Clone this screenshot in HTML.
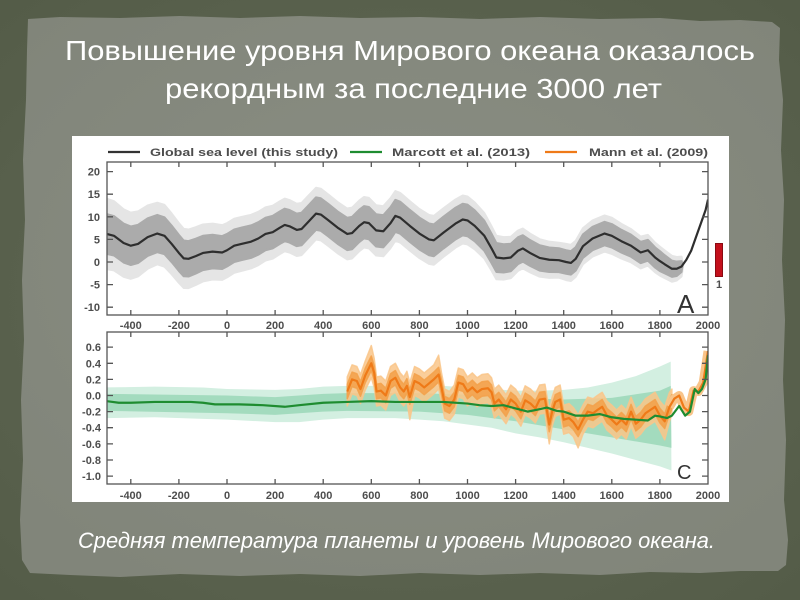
<!DOCTYPE html>
<html><head><meta charset="utf-8"><style>
html,body{margin:0;padding:0;background:#5d654f;}
svg{display:block;}
.lab{font-family:"Liberation Sans",sans-serif;font-weight:bold;font-size:11px;fill:#4d4d4d;}
</style></head><body>
<svg width="800" height="600" viewBox="0 0 800 600" xmlns="http://www.w3.org/2000/svg">
<defs>
<radialGradient id="bg" cx="50%" cy="50%" r="70%">
<stop offset="0" stop-color="#636b57"/><stop offset="1" stop-color="#545c48"/>
</radialGradient>
<radialGradient id="pn" cx="50%" cy="45%" r="65%">
<stop offset="0" stop-color="#8a8e83"/><stop offset="1" stop-color="#81857a"/>
</radialGradient>
<clipPath id="c1"><rect x="107" y="162" width="601" height="153"/></clipPath>
<clipPath id="c2"><rect x="107" y="332" width="601" height="152"/></clipPath>
</defs>
<rect width="800" height="600" fill="url(#bg)"/>
<polygon fill="url(#pn)" points="28,19 60,17 120,18 180,16 240,18 300,16 360,18 420,17 480,19 540,17 600,19 660,18 700,21 740,20 772,22 780,28 779,60 783,100 781,150 784,200 782,260 785,320 783,380 786,440 784,500 788,540 786,565 778,571 740,571 700,573 650,572 600,575 540,573 480,575 420,573 360,576 300,574 240,576 180,574 120,577 70,575 30,573 22,560 20,520 23,460 21,400 24,340 22,280 25,220 23,160 26,100 27,50"/>

<text x="65" y="60" textLength="690" lengthAdjust="spacingAndGlyphs" font-family="Liberation Sans, sans-serif" font-size="28" fill="#ffffff">Повышение уровня Мирового океана оказалось</text>
<text x="165" y="98" textLength="497" lengthAdjust="spacingAndGlyphs" font-family="Liberation Sans, sans-serif" font-size="28" fill="#ffffff">рекордным за последние 3000 лет</text>
<text x="78" y="548" textLength="637" lengthAdjust="spacingAndGlyphs" font-family="Liberation Sans, sans-serif" font-style="italic" font-size="22" fill="#ffffff">Средняя температура планеты и уровень Мирового океана.</text>

<rect x="72" y="136" width="657" height="366" fill="#ffffff"/>

<!-- legend -->
<line x1="108" y1="152" x2="140" y2="152" stroke="#333" stroke-width="2.2"/>
<text x="150" y="156" class="lab" font-size="12" textLength="188" lengthAdjust="spacingAndGlyphs">Global sea level (this study)</text>
<line x1="350" y1="152" x2="382" y2="152" stroke="#1e8c30" stroke-width="2.2"/>
<text x="392" y="156" class="lab" font-size="12" textLength="138" lengthAdjust="spacingAndGlyphs">Marcott et al. (2013)</text>
<line x1="545" y1="152" x2="577" y2="152" stroke="#ef7a18" stroke-width="2.2"/>
<text x="589" y="156" class="lab" font-size="12" textLength="119" lengthAdjust="spacingAndGlyphs">Mann et al. (2009)</text>

<!-- TOP PLOT -->
<g clip-path="url(#c1)">
<g transform="matrix(0.2405 0 0 -4.52 227 262)">
<polygon fill="#e5e5e5" stroke="#e5e5e5" stroke-width="2" vector-effect="non-scaling-stroke" stroke-linejoin="round" points="-500,14 -470,13.46 -430,11.67 -400,10.93 -370,11.19 -330,12.5 -290,13.11 -260,12.64 -230,10.72 -200,8.6 -180,7.34 -160,7.18 -130,7.69 -100,8.3 -60,8.48 -20,8.16 0,8.6 30,9.58 60,9.96 100,10.43 130,11.1 160,12.08 190,12.46 220,13.44 240,14.02 260,13.7 290,12.88 310,13.07 340,14.75 370,16.42 390,16.21 420,14.99 460,13.26 500,11.83 520,12.02 550,13.6 570,14.39 590,14.18 620,12.56 650,12.34 680,14.12 700,15.7 720,15.29 760,13.46 800,11.73 840,10.41 860,10.2 900,11.87 950,13.83 980,14.71 1000,14.5 1030,13.18 1070,10.82 1100,7.9 1120,5.82 1150,5.5 1180,5.58 1210,6.97 1230,7.4 1260,6.29 1300,5.05 1340,4.5 1380,4.27 1410,4 1430,3.8 1450,4.7 1480,7.5 1520,9.2 1570,10.3 1600,9.8 1640,8.44 1680,7.28 1720,5.62 1750,6 1780,4.28 1800,3.4 1820,2.57 1850,1.37 1870,1.1 1890,1.2 1897,-0.8 1890,-3.2 1870,-4.1 1850,-4.37 1820,-3.57 1800,-3 1780,-2.28 1750,-0.8 1720,-1.42 1680,-0.08 1640,0.76 1600,1.8 1570,2.3 1520,1.2 1480,-0.5 1450,-3.3 1430,-4.2 1410,-4 1380,-3.47 1340,-3.5 1300,-3.25 1260,-2.29 1230,-1.4 1210,-1.97 1180,-3.58 1150,-3.9 1120,-3.82 1100,-1.9 1070,0.78 1030,2.82 1000,3.9 980,4.09 950,3.17 900,1.13 860,-0.6 840,-0.41 800,0.87 760,2.54 720,4.31 700,4.7 680,3.08 650,1.26 620,1.44 590,3.02 570,3.21 550,2.4 520,0.78 500,0.57 460,1.94 420,3.61 390,4.79 370,4.98 340,3.25 310,1.53 290,1.32 260,2.1 240,2.38 220,1.76 190,0.74 160,0.32 130,-0.7 100,-1.43 60,-1.96 30,-2.38 0,-3.4 -20,-3.96 -60,-3.88 -100,-4.3 -130,-5.09 -160,-5.78 -180,-5.74 -200,-4.6 -230,-2.72 -260,-1.04 -290,-0.51 -330,-1.5 -370,-3.19 -400,-3.73 -430,-3.27 -470,-1.86 -500,-1.6"/>
<polygon fill="#ababab" stroke="#ababab" stroke-width="2" vector-effect="non-scaling-stroke" stroke-linejoin="round" points="-500,10.6 -470,10.16 -430,8.51 -400,7.87 -370,8.23 -330,9.67 -290,10.42 -260,9.88 -230,8.04 -200,6 -180,4.76 -160,4.62 -130,5.16 -100,5.8 -60,6.02 -20,5.74 0,6.2 30,7.2 60,7.6 100,8.1 130,8.8 160,9.8 190,10.2 220,11.2 240,11.8 260,11.5 290,10.7 310,10.9 340,12.6 370,14.3 390,14.1 420,12.9 460,11.19 500,9.78 520,9.98 550,11.58 570,12.37 590,12.17 620,10.57 650,10.36 680,12.16 700,13.75 720,13.35 760,11.54 800,9.83 840,8.52 860,8.32 900,10.02 950,12.01 980,12.9 1000,12.7 1030,11.43 1070,9.13 1100,6.25 1120,4.2 1150,3.93 1180,4.05 1210,5.48 1230,5.93 1260,4.86 1300,3.7 1340,3.22 1380,3.04 1410,2.6 1430,2.4 1450,3.3 1480,6.1 1520,7.8 1570,8.9 1600,8.4 1640,7.12 1680,6.04 1720,4.46 1750,4.9 1780,3.24 1800,2.4 1820,1.5 1850,0.3 1870,0.1 1890,0.2 1895,-0.5 1890,-2.2 1870,-3.1 1850,-3.3 1820,-2.5 1800,-2 1780,-1.24 1750,0.3 1720,-0.26 1680,1.16 1640,2.08 1600,3.2 1570,3.7 1520,2.6 1480,0.9 1450,-1.9 1430,-2.8 1410,-2.6 1380,-2.24 1340,-2.22 1300,-1.9 1260,-0.86 1230,0.07 1210,-0.48 1180,-2.05 1150,-2.33 1120,-2.2 1100,-0.25 1070,2.47 1030,4.57 1000,5.7 980,5.9 950,4.99 900,2.98 860,1.28 840,1.48 800,2.77 760,4.46 720,6.25 700,6.65 680,5.04 650,3.24 620,3.43 590,5.03 570,5.23 550,4.42 520,2.82 500,2.62 460,4.01 420,5.7 390,6.9 370,7.1 340,5.4 310,3.7 290,3.5 260,4.3 240,4.6 220,4 190,3 160,2.6 130,1.6 100,0.9 60,0.4 30,0 0,-1 -20,-1.54 -60,-1.42 -100,-1.8 -130,-2.56 -160,-3.22 -180,-3.16 -200,-2 -230,-0.04 -260,1.72 -290,2.18 -330,1.33 -370,-0.23 -400,-0.67 -430,-0.11 -470,1.44 -500,1.8"/>
<polyline fill="none" stroke="#2e2e2e" stroke-width="2.2" vector-effect="non-scaling-stroke" stroke-linejoin="round" points="-500,6.2 -470,5.8 -430,4.2 -400,3.6 -370,4 -330,5.5 -290,6.3 -260,5.8 -230,4 -200,2 -180,0.8 -160,0.7 -130,1.3 -100,2 -60,2.3 -20,2.1 0,2.6 30,3.6 60,4 100,4.5 130,5.2 160,6.2 190,6.6 220,7.6 240,8.2 260,7.9 290,7.1 310,7.3 340,9 370,10.7 390,10.5 420,9.3 460,7.6 500,6.2 520,6.4 550,8 570,8.8 590,8.6 620,7 650,6.8 680,8.6 700,10.2 720,9.8 760,8 800,6.3 840,5 860,4.8 900,6.5 950,8.5 980,9.4 1000,9.2 1030,8 1070,5.8 1100,3 1120,1 1150,0.8 1180,1 1210,2.5 1230,3 1260,2 1300,0.9 1340,0.5 1380,0.4 1410,0 1430,-0.2 1450,0.7 1480,3.5 1520,5.2 1570,6.3 1600,5.8 1640,4.6 1680,3.6 1720,2.1 1750,2.6 1780,1 1800,0.2 1820,-0.5 1850,-1.5 1870,-1.5 1890,-1 1910,0.5 1930,2.5 1950,5.5 1970,8.5 1990,11.5 2000,13.8"/>
</g>
</g>
<text x="677" y="313" font-family="Liberation Sans, sans-serif" font-size="26" fill="#333">A</text>
<!-- frame top -->
<rect x="107" y="162" width="601" height="153" fill="none" stroke="#555" stroke-width="1.3"/>
<g stroke="#555" stroke-width="1.3">
<path d="M130.8,162v5M178.9,162v5M227,162v5M275.1,162v5M323.2,162v5M371.3,162v5M419.4,162v5M467.5,162v5M515.6,162v5M563.7,162v5M611.8,162v5M659.9,162v5"/>
<path d="M130.8,315v-5M178.9,315v-5M227,315v-5M275.1,315v-5M323.2,315v-5M371.3,315v-5M419.4,315v-5M467.5,315v-5M515.6,315v-5M563.7,315v-5M611.8,315v-5M659.9,315v-5"/>
<path d="M107,171.6h6M107,194.2h6M107,216.8h6M107,239.4h6M107,262h6M107,284.6h6M107,307.2h6"/>
<path d="M708,171.6h-6M708,194.2h-6M708,216.8h-6M708,239.4h-6M708,262h-6M708,284.6h-6M708,307.2h-6"/>
</g>
<g class="lab" text-anchor="end">
<text x="100" y="175.6">20</text><text x="100" y="198.2">15</text><text x="100" y="220.8">10</text><text x="100" y="243.4">5</text><text x="100" y="266">0</text><text x="100" y="288.6">-5</text><text x="100" y="311.2">-10</text>
</g>
<g class="lab" text-anchor="middle">
<text x="130.8" y="329">-400</text><text x="178.9" y="329">-200</text><text x="227" y="329">0</text><text x="275.1" y="329">200</text><text x="323.2" y="329">400</text><text x="371.3" y="329">600</text><text x="419.4" y="329">800</text><text x="467.5" y="329">1000</text><text x="515.6" y="329">1200</text><text x="563.7" y="329">1400</text><text x="611.8" y="329">1600</text><text x="659.9" y="329">1800</text><text x="708" y="329">2000</text>
</g>
<rect x="715.5" y="243.5" width="7" height="33" fill="#c4101c" stroke="#8a0a12" stroke-width="1"/>
<text x="719" y="288" class="lab" font-size="9" text-anchor="middle" fill="#333">1</text>

<!-- BOTTOM PLOT -->
<g clip-path="url(#c2)">
<g transform="matrix(0.2405 0 0 -80.6 227 395.5)">
<polygon fill="#d3efe1" points="-500,0.10 -300,0.11 -100,0.10 0,0.08 200,0.07 300,0.08 400,0.11 500,0.12 700,0.12 800,0.12 900,0.12 1000,0.10 1100,0.08 1200,0.06 1300,0.06 1400,0.07 1500,0.10 1600,0.16 1700,0.24 1800,0.36 1845,0.42 1848,-0.93 1800,-0.88 1700,-0.80 1600,-0.72 1500,-0.65 1400,-0.58 1300,-0.52 1200,-0.47 1100,-0.40 1000,-0.36 900,-0.32 800,-0.30 700,-0.28 500,-0.28 400,-0.30 300,-0.33 200,-0.33 0,-0.30 -100,-0.29 -300,-0.27 -500,-0.28"/>
<polygon fill="#a3dbbe" points="-500,0.02 0,0.0 200,-0.02 400,0.02 500,0.03 800,0.03 1000,0.01 1200,-0.03 1400,-0.05 1600,-0.03 1800,0.06 1845,0.12 1848,-0.65 1800,-0.62 1600,-0.52 1400,-0.42 1200,-0.32 1000,-0.24 800,-0.20 500,-0.19 400,-0.20 200,-0.24 0,-0.22 -500,-0.19"/>
<polygon fill="#f9c68a" fill-opacity="0.85" stroke="#f9c68a" stroke-opacity="0.85" stroke-width="1.5" vector-effect="non-scaling-stroke" stroke-linejoin="round" points="500,0.23 520,0.38 540,0.36 555,0.26 575,0.43 600,0.62 612,0.46 622,0.23 640,0.24 660,0.18 680,0.36 700,0.40 720,0.28 735,0.23 748,0.30 760,0.16 780,0.36 800,0.33 820,0.28 840,0.33 860,0.38 880,0.50 892,0.28 905,0.08 925,0.05 945,0.13 962,0.34 982,0.32 1000,0.23 1020,0.28 1040,0.22 1060,0.26 1085,0.27 1100,0.22 1112,0.08 1130,0.13 1160,0.01 1180,0.13 1200,0.08 1222,-0.02 1240,0.12 1262,0.08 1282,0.02 1300,0.13 1322,0.14 1340,-0.18 1352,-0.02 1365,0.10 1385,0.13 1400,-0.12 1422,-0.10 1440,-0.15 1460,-0.24 1480,-0.12 1500,-0.02 1522,-0.04 1540,0.00 1560,0.04 1580,-0.07 1600,-0.12 1620,-0.18 1640,-0.12 1660,-0.18 1680,-0.02 1700,-0.17 1720,-0.12 1740,-0.04 1760,0.00 1780,0.04 1800,-0.07 1820,-0.14 1840,0.04 1850,0.08 1850,-0.24 1840,-0.32 1820,-0.55 1800,-0.43 1780,-0.32 1760,-0.36 1740,-0.40 1720,-0.48 1700,-0.53 1680,-0.38 1660,-0.54 1640,-0.48 1620,-0.54 1600,-0.48 1580,-0.43 1560,-0.32 1540,-0.36 1522,-0.40 1500,-0.38 1480,-0.48 1460,-0.65 1440,-0.51 1422,-0.46 1400,-0.48 1385,-0.23 1365,-0.26 1352,-0.38 1340,-0.60 1322,-0.22 1300,-0.23 1282,-0.34 1262,-0.28 1240,-0.24 1222,-0.38 1200,-0.28 1180,-0.23 1160,-0.35 1130,-0.23 1112,-0.28 1100,-0.14 1085,-0.09 1060,-0.10 1040,-0.14 1020,-0.08 1000,-0.13 982,-0.04 962,-0.02 945,-0.23 925,-0.31 905,-0.28 892,-0.08 880,0.08 860,0.02 840,-0.03 820,-0.08 800,-0.03 780,0.00 760,-0.30 748,-0.06 735,-0.13 720,-0.08 700,0.04 680,0.00 660,-0.18 640,-0.12 622,-0.13 612,0.10 600,0.22 575,0.07 555,-0.10 540,0.00 520,0.02 500,-0.13"/>
<polygon fill="#f3a24c" fill-opacity="0.9" stroke="#f3a24c" stroke-opacity="0.9" stroke-width="1.5" vector-effect="non-scaling-stroke" stroke-linejoin="round" points="500,0.14 520,0.29 540,0.27 555,0.17 575,0.34 600,0.49 612,0.37 622,0.14 640,0.15 660,0.09 680,0.27 700,0.31 720,0.19 735,0.14 748,0.21 760,0.07 780,0.27 800,0.24 820,0.19 840,0.24 860,0.29 880,0.35 892,0.19 905,-0.01 925,-0.04 945,0.04 962,0.25 982,0.23 1000,0.14 1020,0.19 1040,0.13 1060,0.17 1085,0.18 1100,0.13 1112,-0.01 1130,0.04 1160,-0.08 1180,0.04 1200,-0.01 1222,-0.11 1240,0.03 1262,-0.01 1282,-0.07 1300,0.04 1322,0.05 1340,-0.27 1352,-0.11 1365,0.01 1385,0.04 1400,-0.21 1422,-0.19 1440,-0.24 1460,-0.33 1480,-0.21 1500,-0.11 1522,-0.13 1540,-0.09 1560,-0.05 1580,-0.16 1600,-0.21 1620,-0.27 1640,-0.21 1660,-0.27 1680,-0.11 1700,-0.26 1720,-0.21 1740,-0.13 1760,-0.09 1780,-0.05 1800,-0.16 1820,-0.23 1840,-0.05 1850,0.01 1850,-0.17 1840,-0.23 1820,-0.41 1800,-0.34 1780,-0.23 1760,-0.27 1740,-0.31 1720,-0.39 1700,-0.44 1680,-0.29 1660,-0.45 1640,-0.39 1620,-0.45 1600,-0.39 1580,-0.34 1560,-0.23 1540,-0.27 1522,-0.31 1500,-0.29 1480,-0.39 1460,-0.51 1440,-0.42 1422,-0.37 1400,-0.39 1385,-0.14 1365,-0.17 1352,-0.29 1340,-0.45 1322,-0.13 1300,-0.14 1282,-0.25 1262,-0.19 1240,-0.15 1222,-0.29 1200,-0.19 1180,-0.14 1160,-0.26 1130,-0.14 1112,-0.19 1100,-0.05 1085,0.00 1060,-0.01 1040,-0.05 1020,0.01 1000,-0.04 982,0.05 962,0.07 945,-0.14 925,-0.22 905,-0.19 892,0.01 880,0.17 860,0.11 840,0.06 820,0.01 800,0.06 780,0.09 760,-0.11 748,0.03 735,-0.04 720,0.01 700,0.13 680,0.09 660,-0.09 640,-0.03 622,-0.04 612,0.19 600,0.31 575,0.16 555,-0.01 540,0.09 520,0.11 500,-0.04"/>
<polyline fill="none" stroke="#f8c48a" stroke-width="9" vector-effect="non-scaling-stroke" stroke-linejoin="round" points="1840,-0.14 1860,-0.04 1880,0.00 1900,-0.15 1920,-0.20 1940,0.06 1960,0.05 1980,0.16 2000,0.55"/>
<polyline fill="none" stroke="#ef7a18" stroke-width="2.2" vector-effect="non-scaling-stroke" stroke-linejoin="round" points="500,0.05 520,0.20 540,0.18 555,0.08 575,0.25 600,0.40 612,0.28 622,0.05 640,0.06 660,0.00 680,0.18 700,0.22 720,0.10 735,0.05 748,0.12 760,-0.02 780,0.18 800,0.15 820,0.10 840,0.15 860,0.20 880,0.26 892,0.10 905,-0.10 925,-0.13 945,-0.05 962,0.16 982,0.14 1000,0.05 1020,0.10 1040,0.04 1060,0.08 1085,0.09 1100,0.04 1112,-0.10 1130,-0.05 1160,-0.17 1180,-0.05 1200,-0.10 1222,-0.20 1240,-0.06 1262,-0.10 1282,-0.16 1300,-0.05 1322,-0.04 1340,-0.36 1352,-0.20 1365,-0.08 1385,-0.05 1400,-0.30 1422,-0.28 1440,-0.33 1460,-0.42 1480,-0.30 1500,-0.20 1522,-0.22 1540,-0.18 1560,-0.14 1580,-0.25 1600,-0.30 1620,-0.36 1640,-0.30 1660,-0.36 1680,-0.20 1700,-0.35 1720,-0.30 1740,-0.22 1760,-0.18 1780,-0.14 1800,-0.25 1820,-0.32 1840,-0.14 1860,-0.04 1880,0.00 1900,-0.15 1920,-0.20 1940,0.06 1960,0.05 1980,0.16 2000,0.55"/>
<polyline fill="none" stroke="#1e8c30" stroke-width="2.2" vector-effect="non-scaling-stroke" stroke-linejoin="round" points="-500,-0.07 -450,-0.09 -400,-0.09 -300,-0.08 -150,-0.08 -100,-0.09 -50,-0.11 50,-0.11 150,-0.12 240,-0.14 300,-0.12 400,-0.09 500,-0.08 600,-0.07 700,-0.08 900,-0.08 1000,-0.10 1050,-0.12 1100,-0.13 1150,-0.12 1200,-0.16 1250,-0.20 1300,-0.17 1330,-0.15 1370,-0.19 1400,-0.20 1450,-0.25 1500,-0.25 1550,-0.23 1600,-0.27 1650,-0.29 1700,-0.30 1750,-0.31 1780,-0.25 1800,-0.26 1830,-0.28 1850,-0.25 1880,-0.13 1905,-0.25 1925,-0.20 1945,0.08 1960,0.03 1975,0.08 1990,0.2 2000,0.5"/>
</g>
</g>
<text x="677" y="479" font-family="Liberation Sans, sans-serif" font-size="20" fill="#333">C</text>
<rect x="107" y="332" width="601" height="152" fill="none" stroke="#555" stroke-width="1.3"/>
<g stroke="#555" stroke-width="1.3">
<path d="M130.8,332v5M178.9,332v5M227,332v5M275.1,332v5M323.2,332v5M371.3,332v5M419.4,332v5M467.5,332v5M515.6,332v5M563.7,332v5M611.8,332v5M659.9,332v5"/>
<path d="M130.8,484v-5M178.9,484v-5M227,484v-5M275.1,484v-5M323.2,484v-5M371.3,484v-5M419.4,484v-5M467.5,484v-5M515.6,484v-5M563.7,484v-5M611.8,484v-5M659.9,484v-5"/>
<path d="M107,347.1h6M107,363.3h6M107,379.4h6M107,395.5h6M107,411.6h6M107,427.7h6M107,443.9h6M107,460h6M107,476.1h6"/>
<path d="M708,347.1h-6M708,363.3h-6M708,379.4h-6M708,395.5h-6M708,411.6h-6M708,427.7h-6M708,443.9h-6M708,460h-6M708,476.1h-6"/>
</g>
<g class="lab" text-anchor="end">
<text x="101" y="351.1">0.6</text><text x="101" y="367.3">0.4</text><text x="101" y="383.4">0.2</text><text x="101" y="399.5">0.0</text><text x="101" y="415.6">-0.2</text><text x="101" y="431.7">-0.4</text><text x="101" y="447.9">-0.6</text><text x="101" y="464">-0.8</text><text x="101" y="480.1">-1.0</text>
</g>
<g class="lab" text-anchor="middle">
<text x="130.8" y="499">-400</text><text x="178.9" y="499">-200</text><text x="227" y="499">0</text><text x="275.1" y="499">200</text><text x="323.2" y="499">400</text><text x="371.3" y="499">600</text><text x="419.4" y="499">800</text><text x="467.5" y="499">1000</text><text x="515.6" y="499">1200</text><text x="563.7" y="499">1400</text><text x="611.8" y="499">1600</text><text x="659.9" y="499">1800</text><text x="708" y="499">2000</text>
</g>
</svg>
</body></html>
